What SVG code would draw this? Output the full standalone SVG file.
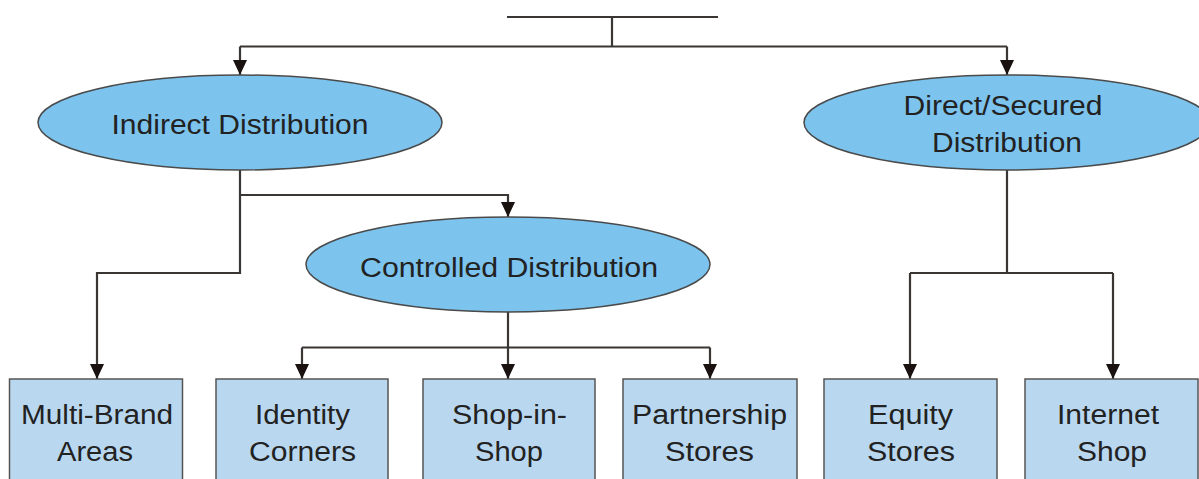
<svg xmlns="http://www.w3.org/2000/svg" width="1199" height="479" viewBox="0 0 1199 479">
  <style>
    .oval { fill: #7cc4ee; stroke: #4a4a4a; stroke-width: 1.5; }
    .box { fill: #b9d8f0; stroke: #555555; stroke-width: 1.5; }
    .wire { fill: none; stroke: #3a3634; stroke-width: 2.2; }
    .lbl { font-family: "Liberation Sans", Arial, sans-serif; font-size: 27px; fill: #222222; text-anchor: middle; }
  </style>
  <defs>
    <marker id="arrow" markerUnits="userSpaceOnUse" markerWidth="18" markerHeight="16" refX="15" refY="7" orient="auto">
      <path d="M0,0 L15,7 L0,14 Z" fill="#1a1210"/>
    </marker>
  </defs>
  <rect width="1199" height="479" fill="#ffffff"/>

  <!-- connectors -->
  <g id="connectors">
    <path class="wire" d="M507,17 H718"/>
    <path class="wire" d="M612,17 V46.5"/>
    <path class="wire" d="M240,46.5 H1007"/>
    <path class="wire" d="M240,46.5 V75" marker-end="url(#arrow)"/>
    <path class="wire" d="M1007,46.5 V75" marker-end="url(#arrow)"/>
    <!-- indirect branch -->
    <path class="wire" d="M240,170 V273 H97 V379" marker-end="url(#arrow)"/>
    <path class="wire" d="M240,195 H508 V217" marker-end="url(#arrow)"/>
    <!-- controlled branch -->
    <path class="wire" d="M508,312 V379" marker-end="url(#arrow)"/>
    <path class="wire" d="M302,347.5 H710"/>
    <path class="wire" d="M302,347.5 V379" marker-end="url(#arrow)"/>
    <path class="wire" d="M710,347.5 V379" marker-end="url(#arrow)"/>
    <!-- direct branch -->
    <path class="wire" d="M1007,170 V273"/>
    <path class="wire" d="M910,273 H1113"/>
    <path class="wire" d="M910,273 V379" marker-end="url(#arrow)"/>
    <path class="wire" d="M1113,273 V379" marker-end="url(#arrow)"/>
  </g>

  <g id="indirect">
    <ellipse class="oval" cx="240" cy="122.5" rx="202" ry="47.5"/>
    <text class="lbl" x="240" y="134" textLength="257" lengthAdjust="spacingAndGlyphs">Indirect Distribution</text>
  </g>
  <g id="direct">
    <ellipse class="oval" cx="1007" cy="122.5" rx="203" ry="47.5"/>
    <text class="lbl" x="1003" y="115" textLength="199" lengthAdjust="spacingAndGlyphs">Direct/Secured</text>
    <text class="lbl" x="1007" y="152" textLength="150" lengthAdjust="spacingAndGlyphs">Distribution</text>
  </g>
  <g id="controlled">
    <ellipse class="oval" cx="508" cy="264.5" rx="202" ry="47.5"/>
    <text class="lbl" x="509" y="277" textLength="298" lengthAdjust="spacingAndGlyphs">Controlled Distribution</text>
  </g>

  <g id="multi-brand">
    <rect class="box" x="9.5" y="379" width="173" height="110"/>
    <text class="lbl" x="97" y="424" textLength="152" lengthAdjust="spacingAndGlyphs">Multi-Brand</text>
    <text class="lbl" x="95" y="461" textLength="76" lengthAdjust="spacingAndGlyphs">Areas</text>
  </g>
  <g id="identity">
    <rect class="box" x="216" y="379" width="172" height="110"/>
    <text class="lbl" x="302.5" y="424" textLength="95" lengthAdjust="spacingAndGlyphs">Identity</text>
    <text class="lbl" x="302.5" y="461" textLength="107" lengthAdjust="spacingAndGlyphs">Corners</text>
  </g>
  <g id="shop-in-shop">
    <rect class="box" x="423" y="379" width="172" height="110"/>
    <text class="lbl" x="509.5" y="424" textLength="115" lengthAdjust="spacingAndGlyphs">Shop-in-</text>
    <text class="lbl" x="509" y="461" textLength="68" lengthAdjust="spacingAndGlyphs">Shop</text>
  </g>
  <g id="partnership">
    <rect class="box" x="623" y="379" width="174" height="110"/>
    <text class="lbl" x="709.5" y="424" textLength="155" lengthAdjust="spacingAndGlyphs">Partnership</text>
    <text class="lbl" x="709.5" y="461" textLength="89" lengthAdjust="spacingAndGlyphs">Stores</text>
  </g>
  <g id="equity">
    <rect class="box" x="824" y="379" width="173" height="110"/>
    <text class="lbl" x="910.5" y="424" textLength="85" lengthAdjust="spacingAndGlyphs">Equity</text>
    <text class="lbl" x="911" y="461" textLength="88" lengthAdjust="spacingAndGlyphs">Stores</text>
  </g>
  <g id="internet">
    <rect class="box" x="1025" y="379" width="173" height="110"/>
    <text class="lbl" x="1108" y="424" textLength="102" lengthAdjust="spacingAndGlyphs">Internet</text>
    <text class="lbl" x="1112" y="461" textLength="70" lengthAdjust="spacingAndGlyphs">Shop</text>
  </g>
</svg>
